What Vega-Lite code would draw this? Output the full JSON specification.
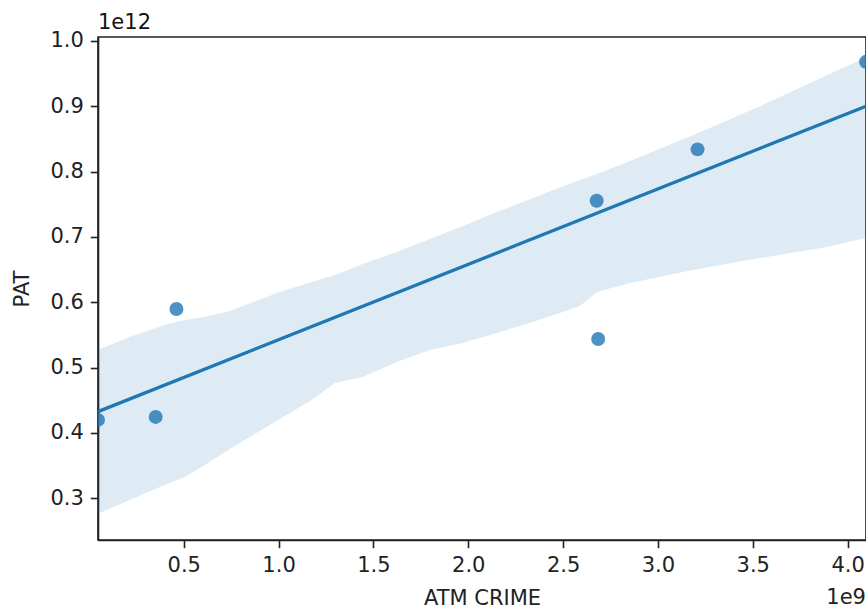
{
  "$schema": "https://vega.github.io/schema/vega-lite/v6.json",
  "autosize": {"type": "none"},
  "padding": {"left": 98, "top": 37, "right": 0, "bottom": 71},
  "width": 768,
  "height": 503,
  "background": "white",
  "title": {"text": "1e12", "anchor": "start", "frame": "group", "font": "DejaVu Sans", "fontSize": 21, "fontWeight": "normal", "color": "#111", "offset": -3},
  "config": {
    "view": {"stroke": "#222", "strokeWidth": 1.6},
    "axis": {"labelFont": "DejaVu Sans", "titleFont": "DejaVu Sans", "labelFontSize": 21, "titleFontSize": 21, "titleFontWeight": "normal", "labelColor": "#222", "titleColor": "#222", "tickColor": "#222", "domainColor": "#222", "tickSize": 7.7, "tickWidth": 1.6, "domainWidth": 1.6, "labelPadding": 7, "grid": false}
  },
  "datasets": {
    "points": [
      {"atm": 48000000, "pat": 419800000000},
      {"atm": 352000000, "pat": 424400000000},
      {"atm": 461500000, "pat": 589600000000},
      {"atm": 2677000000, "pat": 755300000000},
      {"atm": 2685000000, "pat": 543700000000},
      {"atm": 3209000000, "pat": 834000000000},
      {"atm": 4097000000, "pat": 968000000000}
    ],
    "fit": [
      {"atm": 48000000, "pat": 432500000000},
      {"atm": 4097000000, "pat": 900100000000}
    ],
    "band": [
      {"atm": 46400000, "lo": 276000000000, "hi": 526900000000},
      {"atm": 215200000, "lo": 297400000000, "hi": 546700000000},
      {"atm": 399800000, "lo": 320300000000, "hi": 565100000000},
      {"atm": 505300000, "lo": 332600000000, "hi": 572700000000},
      {"atm": 610800000, "lo": 350900000000, "hi": 577300000000},
      {"atm": 742600000, "lo": 375400000000, "hi": 586500000000},
      {"atm": 1006300000, "lo": 421300000000, "hi": 615600000000},
      {"atm": 1175100000, "lo": 450400000000, "hi": 630900000000},
      {"atm": 1296400000, "lo": 476400000000, "hi": 641600000000},
      {"atm": 1444100000, "lo": 485500000000, "hi": 658400000000},
      {"atm": 1623400000, "lo": 508500000000, "hi": 676800000000},
      {"atm": 1797500000, "lo": 526900000000, "hi": 696600000000},
      {"atm": 1971500000, "lo": 537600000000, "hi": 716500000000},
      {"atm": 2150800000, "lo": 552900000000, "hi": 738000000000},
      {"atm": 2324900000, "lo": 568200000000, "hi": 757800000000},
      {"atm": 2498900000, "lo": 585000000000, "hi": 777700000000},
      {"atm": 2588600000, "lo": 594200000000, "hi": 786900000000},
      {"atm": 2678300000, "lo": 615600000000, "hi": 796100000000},
      {"atm": 2852300000, "lo": 629300000000, "hi": 816000000000},
      {"atm": 3184600000, "lo": 649200000000, "hi": 855700000000},
      {"atm": 3538000000, "lo": 667600000000, "hi": 900100000000},
      {"atm": 3891400000, "lo": 684400000000, "hi": 947500000000},
      {"atm": 4097000000, "lo": 698200000000, "hi": 975100000000}
    ],
    "offset": [
      {"atm": 4097000000, "pat": 236000000000, "label": "1e9"}
    ]
  },
  "layer": [
    {
      "data": {"name": "band"},
      "mark": {"type": "area", "color": "#1f77b4", "opacity": 0.15, "clip": true},
      "encoding": {
        "x": {"field": "atm", "type": "quantitative", "scale": {"domain": [48000000, 4097000000], "nice": false, "zero": false},
          "axis": {"title": "ATM CRIME", "values": [500000000, 1000000000, 1500000000, 2000000000, 2500000000, 3000000000, 3500000000, 4000000000], "labelExpr": "format(datum.value / 1e9, '.1f')", "titlePadding": 12}},
        "y": {"field": "lo", "type": "quantitative", "scale": {"domain": [236000000000, 1006000000000], "nice": false, "zero": false},
          "axis": {"title": "PAT", "values": [300000000000, 400000000000, 500000000000, 600000000000, 700000000000, 800000000000, 900000000000, 1000000000000], "labelExpr": "format(datum.value / 1e12, '.1f')", "titlePadding": 17}},
        "y2": {"field": "hi"}
      }
    },
    {
      "data": {"name": "fit"},
      "mark": {"type": "line", "color": "#1f77b4", "strokeWidth": 3.3, "clip": true},
      "encoding": {
        "x": {"field": "atm", "type": "quantitative"},
        "y": {"field": "pat", "type": "quantitative"}
      }
    },
    {
      "data": {"name": "points"},
      "mark": {"type": "circle", "color": "#1f77b4", "opacity": 0.8, "size": 195, "clip": true},
      "encoding": {
        "x": {"field": "atm", "type": "quantitative"},
        "y": {"field": "pat", "type": "quantitative"}
      }
    },
    {
      "data": {"name": "offset"},
      "mark": {"type": "text", "font": "DejaVu Sans", "fontSize": 21, "color": "#222", "align": "right", "baseline": "alphabetic", "dy": 64},
      "encoding": {
        "x": {"field": "atm", "type": "quantitative"},
        "y": {"field": "pat", "type": "quantitative"},
        "text": {"field": "label"}
      }
    }
  ]
}
